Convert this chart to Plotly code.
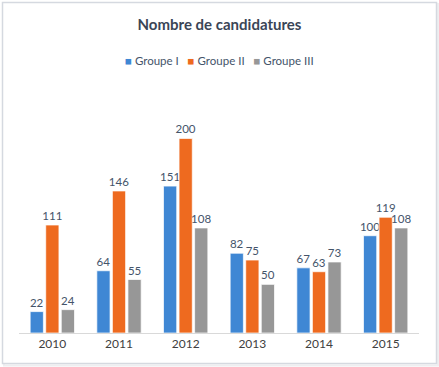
import plotly.graph_objects as go

years = ["2010", "2011", "2012", "2013", "2014", "2015"]
groupe1 = [22, 64, 151, 82, 67, 100]
groupe2 = [111, 146, 200, 75, 63, 119]
groupe3 = [24, 55, 108, 50, 73, 108]
series_names = ["Groupe I", "Groupe II", "Groupe III"]
colors = ["#3F87D4", "#EE6A1F", "#979797"]

FONT = "Lato, Open Sans, sans-serif"

fig = go.Figure()
for name, vals, col in zip(series_names, [groupe1, groupe2, groupe3], colors):
    fig.add_trace(go.Bar(
        x=years, y=vals, name=name,
        marker=dict(color=col, line=dict(color="rgba(255,255,255,0.7)", width=1)),
        text=[str(v) for v in vals], textposition="outside", constraintext="none",
        textfont=dict(family=FONT, size=11.5, color="#44546A"),
        cliponaxis=False, showlegend=False,
    ))

W, H = 439, 367
l, r, t, b = 19, 20, 119, 34
pw, ph = W - l - r, H - t - b

def px_x(x):
    return (x - l) / pw

def px_y(y):
    return (H - b - y) / ph

# subtle shadow + frame
fig.add_shape(type="rect", xref="paper", yref="paper",
              x0=px_x(4), x1=px_x(438), y0=px_y(365.5), y1=px_y(4),
              line=dict(color="#EEEEF0", width=2), fillcolor="rgba(0,0,0,0)", layer="below")
fig.add_shape(type="rect", xref="paper", yref="paper",
              x0=px_x(2.5), x1=px_x(436.5), y0=px_y(363.5), y1=px_y(2.5),
              line=dict(color="#D5D9E0", width=1.5), fillcolor="white", layer="below")

legend_parts = []
for name, col in zip(series_names, colors):
    legend_parts.append(f"<span style='color:{col}'>■</span> {name}")
fig.add_annotation(
    xref="paper", yref="paper", x=0.5, y=px_y(60), xanchor="center", yanchor="middle",
    text="&nbsp;&nbsp;&nbsp;".join(legend_parts), showarrow=False,
    font=dict(family=FONT, size=11.5, color="#44546A"),
)

fig.update_layout(
    width=W, height=H,
    margin=dict(l=l, r=r, t=t, b=b),
    paper_bgcolor="white", plot_bgcolor="white",
    barmode="group", bargap=0.3, bargroupgap=0.15,
    showlegend=False,
    title=dict(text="<b>Nombre de candidatures</b>", x=0.5, xanchor="center",
               y=1 - 25 / H, yanchor="middle",
               font=dict(family=FONT, size=15, color="#3A4556")),
    xaxis=dict(showline=True, linecolor="#D9D9D9", linewidth=1, ticks="",
               tickfont=dict(family=FONT, size=12, color="#404040"),
               showgrid=False),
    yaxis=dict(range=[0, 220], visible=False, showgrid=False),
)

fig.write_html("out.html", config={"displayModeBar": False},
               post_script="document.body.style.margin='0';")
